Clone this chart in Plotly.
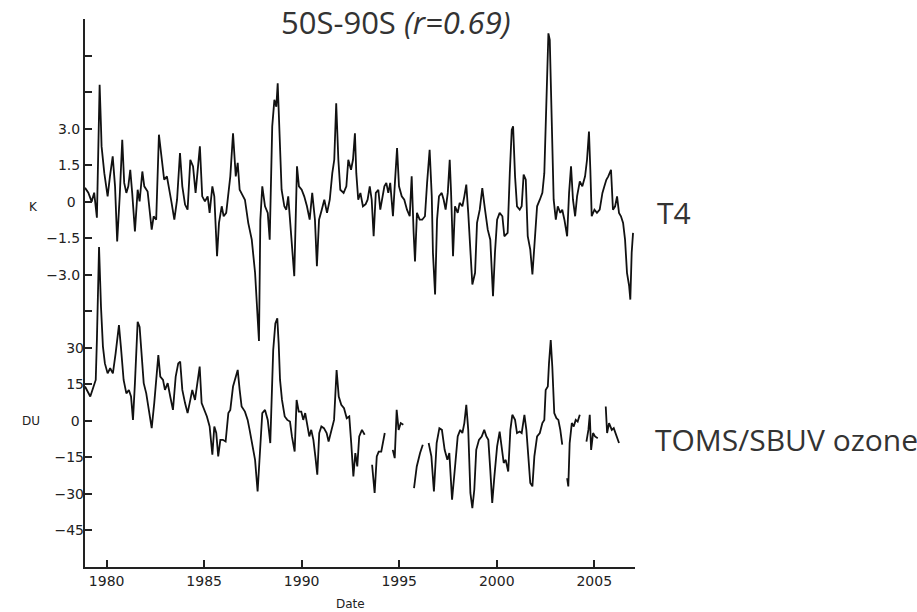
import plotly.graph_objects as go

# ---------------- data ----------------
t4_year = [1978.89, 1979.06, 1979.23, 1979.36, 1979.50, 1979.64, 1979.71, 1979.74, 1979.88, 1980.05,
           1980.17, 1980.31, 1980.43, 1980.54, 1980.67, 1980.80, 1980.90, 1981.01, 1981.11, 1981.21,
           1981.31, 1981.45, 1981.59, 1981.69, 1981.83, 1981.93, 1982.10, 1982.21, 1982.31, 1982.41,
           1982.54, 1982.68, 1982.82, 1982.95, 1983.09, 1983.19, 1983.33, 1983.47, 1983.61, 1983.76,
           1983.88, 1984.02, 1984.15, 1984.29, 1984.43, 1984.56, 1984.67, 1984.78, 1984.90, 1985.04,
           1985.18, 1985.28, 1985.42, 1985.52, 1985.66, 1985.76, 1985.90, 1986.00, 1986.13, 1986.22,
           1986.34, 1986.48, 1986.62, 1986.72, 1986.82, 1986.95, 1987.09, 1987.26, 1987.44, 1987.61,
           1987.71, 1987.81, 1987.88, 1987.98, 1988.12, 1988.26, 1988.36, 1988.49, 1988.60, 1988.70,
           1988.77, 1988.87, 1988.97, 1989.11, 1989.21, 1989.31, 1989.45, 1989.62, 1989.76, 1989.86,
           1990.00, 1990.13, 1990.27, 1990.41, 1990.54, 1990.68, 1990.78, 1990.89, 1991.03, 1991.16,
           1991.30, 1991.44, 1991.57, 1991.67, 1991.77, 1991.88, 1991.98, 1992.15, 1992.29, 1992.39,
           1992.53, 1992.63, 1992.73, 1992.80, 1992.90, 1993.01, 1993.14, 1993.28, 1993.38, 1993.49,
           1993.59, 1993.69, 1993.80, 1993.93, 1994.03, 1994.13, 1994.24, 1994.34, 1994.44, 1994.54,
           1994.68, 1994.78, 1994.89, 1994.99, 1995.13, 1995.26, 1995.40, 1995.54, 1995.64, 1995.74,
           1995.81, 1995.91, 1996.05, 1996.18, 1996.32, 1996.43, 1996.56, 1996.67, 1996.73, 1996.84,
           1996.94, 1997.04, 1997.18, 1997.28, 1997.38, 1997.49, 1997.59, 1997.66, 1997.76, 1997.86,
           1998.00, 1998.10, 1998.24, 1998.34, 1998.44, 1998.54, 1998.65, 1998.75, 1998.89, 1998.99,
           1999.13, 1999.26, 1999.40, 1999.54, 1999.67, 1999.81, 1999.91, 2000.02, 2000.15, 2000.29,
           2000.39, 2000.56, 2000.67, 2000.77, 2000.84, 2000.94, 2001.04, 2001.18, 2001.28, 2001.38,
           2001.49, 2001.59, 2001.72, 2001.83, 2001.93, 2002.07, 2002.21, 2002.34, 2002.44, 2002.54,
           2002.65, 2002.72, 2002.82, 2002.92, 2003.03, 2003.13, 2003.26, 2003.36, 2003.47, 2003.61,
           2003.71, 2003.81, 2003.91, 2004.02, 2004.12, 2004.26, 2004.39, 2004.53, 2004.63, 2004.73,
           2004.80, 2004.87, 2005.01, 2005.14, 2005.28, 2005.42, 2005.52, 2005.62, 2005.72, 2005.86,
           2005.96, 2006.07, 2006.17, 2006.27, 2006.37, 2006.48, 2006.58, 2006.68, 2006.79, 2006.85,
           2006.92, 2006.99]
t4_k = [0.57, 0.37, 0.0, 0.37, -0.66, 4.8, 3.1, 2.27, 1.17, 0.22,
        1.04, 1.86, 0.63, -1.63, 0.22, 2.54, 0.77, 0.36, 0.63, 1.31,
        0.36, -1.22, 0.49, 0.01, 1.24, 0.63, 0.42, -0.40, -1.15, -0.60,
        -0.74, 2.75, 1.72, 0.90, 1.04, 0.63, -0.05, -0.74, 0.08, 2.00,
        0.63, -0.12, -0.33, 1.72, 1.45, 0.36, 1.31, 2.27, 0.22, 0.01,
        0.22, -0.46, 0.63, 0.22, -2.24, -0.87, -0.19, -0.60, -0.46, 0.30,
        1.04, 2.81, 1.04, 1.59, 0.49, 0.29, 0.08, -0.87, -1.56, -2.92,
        -4.56, -5.72, -0.74, 0.63, -0.19, -0.46, -1.56, 3.09, 4.18, 3.90,
        4.86, 2.95, 0.49, -0.19, -0.33, 0.22, -1.42, -3.06, 1.45, 0.63,
        0.49, 0.22, -0.19, -0.74, 0.36, -0.74, -2.65, -0.74, -0.33, 0.08,
        -0.46, 0.08, 1.17, 1.72, 4.04, 1.72, 0.49, 0.36, 0.63, 1.72,
        1.31, 1.72, 2.81, 1.17, 0.08, 0.36, -0.19, -0.10, 0.08, 0.63,
        0.08, -1.42, 0.36, 0.49, -0.33, 0.08, 0.63, 0.77, 0.36, 0.77,
        -0.60, 0.77, 2.20, 0.63, 0.22, 0.08, -0.33, -0.60, 1.04, -1.28,
        -2.45, -0.46, -0.74, -0.74, -0.60, 0.77, 2.13, 0.22, -2.10, -3.81,
        -0.74, 0.22, 0.36, 0.08, -0.33, 0.36, 1.72, 0.36, -2.24, -0.19,
        -0.46, -0.05, -0.19, 0.22, 0.70, -0.46, -2.10, -3.40, -2.92, -0.87,
        -0.33, 0.56, -0.33, -1.15, -1.56, -3.88, -2.10, -0.74, -0.46, -0.60,
        -1.42, -1.28, 1.17, 2.95, 3.09, 1.04, -0.19, -0.33, -0.19, 1.11,
        0.90, -1.42, -1.97, -2.99, -1.83, -0.19, 0.08, 0.36, 1.17, 3.64,
        6.91, 6.64, 3.23, 0.08, -0.74, -0.19, -0.46, -0.33, -0.74, -1.42,
        0.36, 1.45, 0.08, -0.60, 0.22, 0.83, 0.63, 1.04, 1.72, 2.88,
        1.31, -0.60, -0.33, -0.46, -0.33, 0.36, 0.63, 0.90, 1.04, 1.31,
        -0.33, -0.19, 0.22, -0.46, -0.60, -0.87, -1.56, -2.92, -3.47, -4.02,
        -2.10, -1.28]

oz_year = [1978.89, 1979.03, 1979.16, 1979.30, 1979.44, 1979.50, 1979.61, 1979.71, 1979.81, 1979.91,
           1980.05, 1980.18, 1980.32, 1980.46, 1980.63, 1980.73, 1980.87, 1981.01, 1981.14, 1981.25,
           1981.35, 1981.45, 1981.59, 1981.69, 1981.79, 1981.90, 1982.03, 1982.17, 1982.31, 1982.44,
           1982.54, 1982.65, 1982.75, 1982.89, 1982.99, 1983.13, 1983.26, 1983.40, 1983.54, 1983.67,
           1983.77, 1983.88, 1984.02, 1984.15, 1984.29, 1984.39, 1984.53, 1984.67, 1984.77, 1984.87,
           1985.01, 1985.14, 1985.28, 1985.42, 1985.52, 1985.62, 1985.72, 1985.83, 1985.96, 1986.10,
           1986.24, 1986.34, 1986.48, 1986.62, 1986.72, 1986.82, 1986.92, 1987.09, 1987.23, 1987.33,
           1987.47, 1987.61, 1987.74, 1987.88, 1987.98, 1988.12, 1988.26, 1988.39, 1988.49, 1988.54,
           1988.65, 1988.75, 1988.82, 1988.89, 1988.99, 1989.13, 1989.26, 1989.40, 1989.50, 1989.64,
           1989.74, 1989.85, 1989.98, 1990.08, 1990.18, 1990.29, 1990.39, 1990.49, 1990.60, 1990.70,
           1990.80, 1990.90, 1991.01, 1991.14, 1991.28, 1991.38, 1991.52, 1991.66, 1991.79, 1991.90,
           1992.03, 1992.17, 1992.31, 1992.44, 1992.54, 1992.65, 1992.75, 1992.85, 1992.95, 1993.09,
           1993.23, 1993.40,
           1993.61, 1993.74, 1993.85, 1993.95, 1994.08, 1994.26, 1994.45,
           1994.67, 1994.77, 1994.87, 1994.97, 1995.08, 1995.21, 1995.50,
           1995.76, 1995.90, 1996.07, 1996.21, 1996.35,
           1996.51, 1996.65, 1996.78, 1996.92, 1997.06, 1997.19, 1997.33, 1997.47, 1997.57, 1997.71,
           1997.88, 1998.00, 1998.13, 1998.24, 1998.34, 1998.44, 1998.54, 1998.65, 1998.75, 1998.85,
           1998.95, 1999.09, 1999.23, 1999.36, 1999.47, 1999.57, 1999.67, 1999.77, 1999.88, 2000.02,
           2000.15, 2000.26, 2000.36, 2000.46, 2000.59, 2000.70, 2000.80, 2000.94, 2001.04, 2001.18,
           2001.28, 2001.42, 2001.52, 2001.62, 2001.72, 2001.83, 2001.93, 2002.07, 2002.21, 2002.34,
           2002.44, 2002.51, 2002.62, 2002.68, 2002.77, 2002.85, 2002.95, 2003.06, 2003.16, 2003.26,
           2003.36, 2003.48,
           2003.61, 2003.67, 2003.74, 2003.85, 2003.95, 2004.05, 2004.15, 2004.26, 2004.43,
           2004.60, 2004.70, 2004.77, 2004.84, 2004.94, 2005.04, 2005.18, 2005.40,
           2005.59, 2005.66, 2005.76, 2005.90, 2006.00, 2006.13, 2006.27]
oz_du = [14.1, 12.0, 10.0, 13.4, 16.8, 33.2, 71.4, 46.8, 30.5, 23.6,
         19.5, 21.6, 19.5, 27.7, 39.3, 30.5, 16.8, 11.3, 12.7, 10.0,
         0.4, 15.5, 40.7, 38.6, 26.4, 15.5, 11.3, 4.5, -3.0, 7.3,
         18.2, 27.0, 18.2, 16.8, 12.7, 15.5, 10.0, 4.5, 18.2, 23.6,
         24.3, 12.7, 7.3, 3.2, 8.6, 12.7, 8.6, 16.8, 22.3, 7.3,
         4.5, 1.8, -2.3, -13.9, -2.3, -5.0, -14.6, -7.8, -7.8, -8.5,
         3.2, 4.5, 14.1, 18.2, 20.9, 12.7, 5.9, 3.8, 0.4, -3.7,
         -9.1, -16.0, -29.0, -10.5, 3.2, 4.5, 0.4, -9.1, 16.8, 29.1,
         40.0, 42.1, 31.8, 16.8, 8.6, 1.8, 0.4, -0.3, -6.4, -12.6,
         8.6, 3.8, 3.8, 0.4, 3.2, -2.3, -6.4, -3.7, -7.8, -14.6,
         -22.1, -5.0, -2.3, -3.0, -5.0, -8.5, -3.7, 0.4, 20.9, 10.0,
         6.6, 5.2, 1.1, 1.8, -9.1, -22.8, -13.2, -18.7, -6.4, -3.7,
         -5.7, None,
         -18.0, -29.6, -14.6, -12.6, -12.6, -5.0, None,
         -11.9, -15.3, 4.5, -3.7, -0.9, -1.6, None,
         -27.6, -18.7, -13.2, -9.8, None,
         -9.1, -14.6, -29.0, -9.1, -3.0, -3.7, -11.9, -16.0, -13.2, -32.4,
         -17.3, -6.4, -3.7, -5.0, -0.9, 6.6, -3.7, -29.6, -35.8, -28.3,
         -11.9, -7.8, -6.4, -3.7, -6.4, -7.8, -20.1, -33.7, -22.8, -10.5,
         -4.4, -10.5, -17.3, -16.0, -20.8, -3.7, 2.5, 0.4, -5.0, -4.4,
         -5.0, 2.5, -3.7, -14.6, -25.5, -26.9, -14.6, -6.4, -5.0, -0.9,
         0.4, 12.7, 14.1, 23.6, 33.2, 22.3, 3.2, 1.1, 0.4, -3.7,
         -9.8, None,
         -23.5, -26.9, -9.1, -0.9, -2.3, 0.4, -0.3, 2.5, None,
         -8.5, -3.7, 2.5, -11.9, -5.0, -6.4, -7.1, None,
         5.9, -5.0, -0.9, -3.7, -3.0, -5.7, -9.1]

x_ticks = [1980, 1985, 1990, 1995, 2000, 2005]
k_ticks = [7.5, 6.0, 4.5, 3.0, 1.5, 0.0, -1.5, -3.0]
k_labels = ["", "", "", "3.0", "1.5", "0\u00a0", "\u22121.5", "\u22123.0"]
du_ticks = [45, 30, 15, 0, -15, -30, -45]
du_labels = ["", "30", "15", "0\u00a0", "\u221215", "\u221230", "\u221245"]

title_text = "50S-90S <i>(r=0.69)</i>"

# ---------------- figure ----------------
line_col = "#111111"
fig = go.Figure()
fig.add_trace(go.Scatter(x=t4_year, y=t4_k, mode="lines", yaxis="y",
                         line=dict(color=line_col, width=1.8), showlegend=False))
fig.add_trace(go.Scatter(x=oz_year, y=oz_du, mode="lines", yaxis="y2",
                         connectgaps=False,
                         line=dict(color=line_col, width=1.8), showlegend=False))

sans = "DejaVu Sans, Arial, sans-serif"
tick_font = dict(family=sans, size=14, color="#222")
small_font = dict(family=sans, size=12, color="#222")
label_font = dict(family="Open Sans, sans-serif", size=30, color="#333")
title_font = dict(family="Open Sans, sans-serif", size=31, color="#333")

fig.update_layout(
    width=917, height=612,
    margin=dict(l=85, r=282, t=19, b=45),
    plot_bgcolor="white", paper_bgcolor="white",
    xaxis=dict(range=[1978.89, 2007.09], tickvals=x_ticks, ticks="inside", ticklen=7,
               tickwidth=1.5, tickcolor="#222", showline=True, linecolor="#222", linewidth=2,
               showgrid=False, zeroline=False, tickfont=tick_font),
    yaxis=dict(range=[-15, 7.5], tickvals=k_ticks, ticktext=k_labels, ticks="inside",
               ticklen=7, tickwidth=1.5, tickcolor="#222", showline=True, linecolor="#222",
               linewidth=2, showgrid=False, zeroline=False, tickfont=tick_font),
    yaxis2=dict(range=[-60, 165], overlaying="y", side="left", tickvals=du_ticks,
                ticktext=du_labels, ticks="inside", ticklen=7, tickwidth=1.5, tickcolor="#222",
                showline=False, showgrid=False, zeroline=False, tickfont=tick_font),
    annotations=[
        dict(text=title_text, x=0.5655, y=0.9945, xref="paper", yref="paper",
             xanchor="center", yanchor="middle", showarrow=False, font=title_font),
        dict(text="T4", x=1.0364, y=0.646, xref="paper", yref="paper",
             xanchor="left", yanchor="middle", showarrow=False, font=label_font),
        dict(text="TOMS/SBUV ozone", x=1.0327, y=0.2318, xref="paper", yref="paper",
             xanchor="left", yanchor="middle", showarrow=False, font=label_font),
        dict(text="K", x=-0.0945, y=0.657, xref="paper", yref="paper",
             xanchor="center", yanchor="middle", showarrow=False, font=small_font),
        dict(text="DU", x=-0.098, y=0.2664, xref="paper", yref="paper",
             xanchor="center", yanchor="middle", showarrow=False, font=small_font),
        dict(text="Date", x=0.482, y=-0.0675, xref="paper", yref="paper",
             xanchor="center", yanchor="middle", showarrow=False, font=small_font),
    ],
)

fig.write_html("out.html")
